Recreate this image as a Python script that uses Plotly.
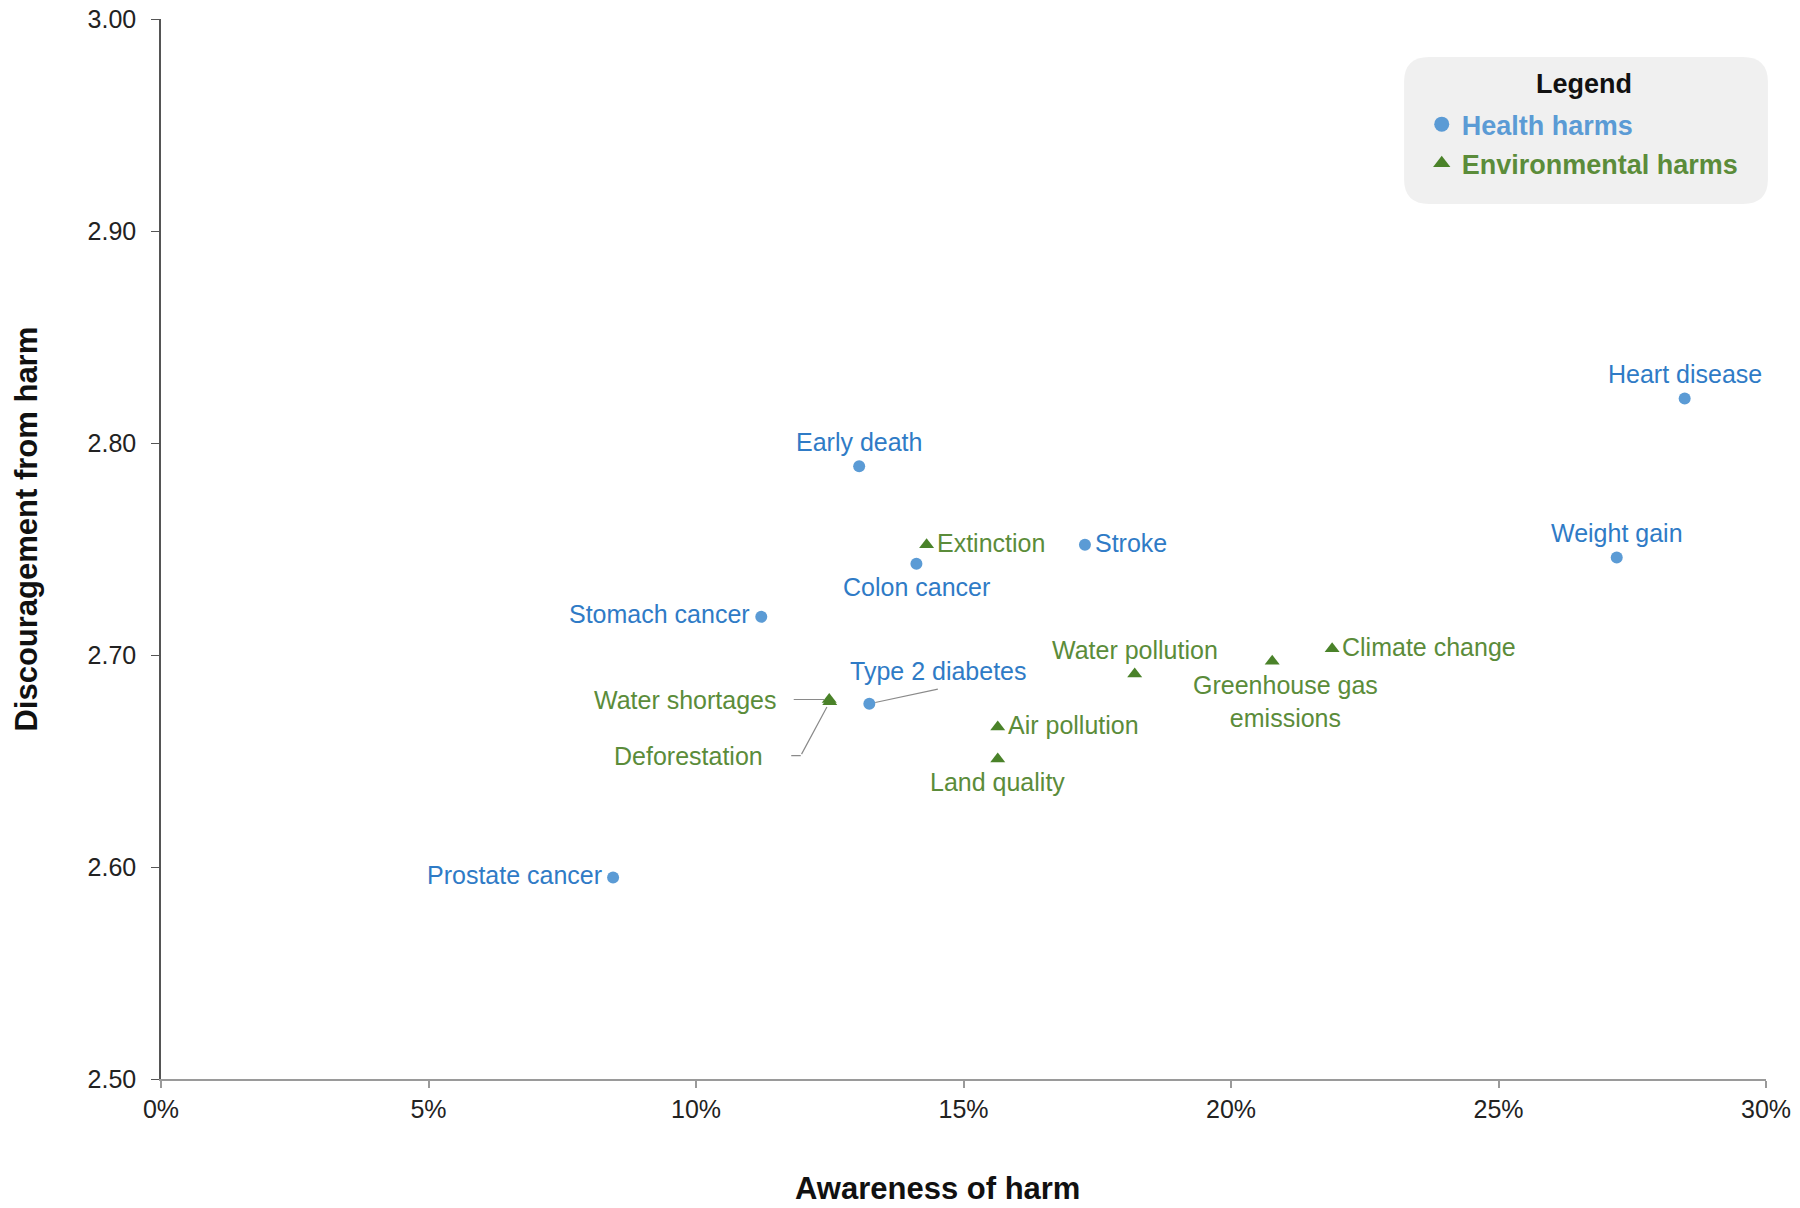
import plotly.graph_objects as go

# ---- data ----
health_names = ["Heart disease", "Weight gain", "Early death", "Stroke", "Colon cancer",
                "Stomach cancer", "Type 2 diabetes", "Prostate cancer"]
health_awareness = [28.48, 27.21, 13.05, 17.27, 14.12, 11.22, 13.24, 8.45]
health_discouragement = [2.821, 2.746, 2.789, 2.752, 2.743, 2.718, 2.677, 2.595]

env_names = ["Extinction", "Climate change", "Greenhouse gas<br>emissions", "Water pollution",
             "Water shortages", "Deforestation", "Air pollution", "Land quality"]
env_awareness = [14.31, 21.89, 20.77, 18.20, 12.49, 12.50, 15.64, 15.64]
env_discouragement = [2.752, 2.703, 2.697, 2.691, 2.679, 2.678, 2.666, 2.651]

x_ticks = [0, 5, 10, 15, 20, 25, 30]
y_ticks = [2.5, 2.6, 2.7, 2.8, 2.9, 3.0]

# ---- styling ----
FONT = "Liberation Sans, Arial, Helvetica, sans-serif"
BLUE_MK = "#5B9BD5"
BLUE_TX = "#2F7BC6"
GREEN_MK = "#4A8229"
GREEN_TX = "#5B8C3A"
LEADER = "#8a8a8a"
LABEL_SIZE = 25

# label placement: kind or ("offset", dx, dy) in screen px (dy down)
placement = {
    "Heart disease": "above", "Weight gain": "above", "Early death": "above",
    "Stroke": "right", "Colon cancer": "below", "Stomach cancer": "left",
    "Type 2 diabetes": ("offset", 69, -33), "Prostate cancer": "left",
    "Extinction": "right", "Climate change": "right",
    "Greenhouse gas<br>emissions": "below_r", "Water pollution": "above",
    "Water shortages": ("offset", -144, 0), "Deforestation": ("offset", -141, 54),
    "Air pollution": "right", "Land quality": "below",
}
# leader lines: (start_shift_x, start_shift_y, tail_dx, tail_dy, standoff) in screen px
leaders = {
    "Type 2 diabetes": [(0, 0, 70, -15, 6)],
    "Water shortages": [(0, 0, -37, 0, 5)],
    "Deforestation": [(0, 0, -29, 54, 6), (-29, 54, -11, 0, 0)],
}

fig = go.Figure()
fig.add_trace(go.Scatter(
    x=health_awareness, y=health_discouragement, mode="markers",
    name="Health harms", showlegend=False,
    marker=dict(symbol="circle", size=12, color=BLUE_MK),
    hovertext=health_names,
))
fig.add_trace(go.Scatter(
    x=env_awareness, y=env_discouragement, mode="markers",
    name="Environmental harms", showlegend=False,
    marker=dict(symbol="triangle-up", size=13, color=GREEN_MK),
    hovertext=env_names,
))
# legend entries (larger symbols, coloured bold text)
fig.add_trace(go.Scatter(
    x=[None], y=[None], mode="markers", legendgroup="h",
    name="<span style='color:#5B9BD5'><b>Health harms</b></span>",
    marker=dict(symbol="circle", size=15, color=BLUE_MK),
))
fig.add_trace(go.Scatter(
    x=[None], y=[None], mode="markers", legendgroup="e",
    name="<span style='color:#5B8C3A'><b>Environmental harms</b></span>",
    marker=dict(symbol="triangle-up", size=15, color=GREEN_MK),
))


def add_label(name, x, y, color):
    p = placement[name]
    base = dict(x=x, y=y, xref="x", yref="y", text=name, showarrow=False,
                font=dict(family=FONT, size=LABEL_SIZE, color=color))
    if isinstance(p, tuple):
        _, dx, dy = p
        fig.add_annotation(**base, xanchor="center", yanchor="middle", xshift=dx, yshift=-dy)
    elif p == "above":
        fig.add_annotation(**base, xanchor="center", yanchor="bottom", yshift=8)
    elif p == "below":
        fig.add_annotation(**base, xanchor="center", yanchor="top", yshift=-7)
    elif p == "below_r":
        fig.add_annotation(**base, xanchor="center", yanchor="top", yshift=-8, xshift=13)
    elif p == "right":
        fig.add_annotation(**base, xanchor="left", yanchor="middle", xshift=8, yshift=2)
    elif p == "left":
        fig.add_annotation(**base, xanchor="right", yanchor="middle", xshift=-9, yshift=3)
    for sx, sy, tx, ty, so in leaders.get(name, []):
        fig.add_annotation(x=x, y=y, xref="x", yref="y", text="", showarrow=True,
                           arrowhead=0, arrowwidth=1.2, arrowcolor=LEADER,
                           xshift=sx, yshift=-sy, ax=tx, ay=ty, standoff=so,
                           font=dict(size=1))


for n, x, y in zip(health_names, health_awareness, health_discouragement):
    add_label(n, x, y, BLUE_TX)
for n, x, y in zip(env_names, env_awareness, env_discouragement):
    add_label(n, x, y, GREEN_TX)

# axis titles as annotations (reference places them slightly off-centre)
fig.add_annotation(x=0.4835, y=-0.103, xref="paper", yref="paper", showarrow=False,
                   text="<b>Awareness of harm</b>", xanchor="center", yanchor="middle",
                   font=dict(family=FONT, size=31, color="#111"))
fig.add_annotation(x=-0.084, y=0.5185, xref="paper", yref="paper", showarrow=False,
                   text="<b>Discouragement from harm</b>", textangle=-90,
                   xanchor="center", yanchor="middle",
                   font=dict(family=FONT, size=31, color="#111"))

# legend title
fig.add_annotation(x=0.8866, y=0.9387, xref="paper", yref="paper", showarrow=False,
                   text="<b>Legend</b>", xanchor="center", yanchor="middle",
                   font=dict(family=FONT, size=27, color="#111"))

# rounded legend background (paper coords)
x0, x1, y0, y1 = 0.7745, 1.0012, 0.8255, 0.9642
rx, ry = 0.0156, 0.0236
path = (f"M {x0+rx},{y1} L {x1-rx},{y1} Q {x1},{y1} {x1},{y1-ry} "
        f"L {x1},{y0+ry} Q {x1},{y0} {x1-rx},{y0} L {x0+rx},{y0} "
        f"Q {x0},{y0} {x0},{y0+ry} L {x0},{y1-ry} Q {x0},{y1} {x0+rx},{y1} Z")
fig.add_shape(type="path", path=path, xref="paper", yref="paper",
              fillcolor="#F0F0F0", line=dict(width=0), layer="below")

fig.update_layout(
    width=1800, height=1208,
    margin=dict(l=161, r=34, t=19, b=129),
    paper_bgcolor="white", plot_bgcolor="white",
    font=dict(family=FONT, size=25, color="#222"),
    showlegend=True,
    legend=dict(
        x=0.7855, y=0.9235, xanchor="left", yanchor="top",
        bgcolor="rgba(0,0,0,0)",
        font=dict(family=FONT, size=27),
        itemwidth=30, tracegroupgap=1,
    ),
    xaxis=dict(
        range=[0, 30], tickvals=x_ticks, ticktext=[f"{v}%" for v in x_ticks],
        showgrid=False, zeroline=False, showline=True, linecolor="#9a9a9a", linewidth=2,
        ticks="outside", ticklen=7, tickcolor="#9a9a9a", tickwidth=1.5,
        tickfont=dict(family=FONT, size=25, color="#222"),
        automargin=False,
    ),
    yaxis=dict(
        range=[2.5, 3.0], tickvals=y_ticks, tickformat=".2f",
        showgrid=False, zeroline=False, showline=True, linecolor="#555", linewidth=1.5,
        ticks="outside", ticklen=8, tickcolor="#555", tickwidth=1.2,
        tickfont=dict(family=FONT, size=25, color="#222"),
        ticklabelstandoff=10,
        automargin=False,
    ),
)

fig.write_html("out.html", config={"displayModeBar": False},
               post_script="document.body.style.margin='0';")
